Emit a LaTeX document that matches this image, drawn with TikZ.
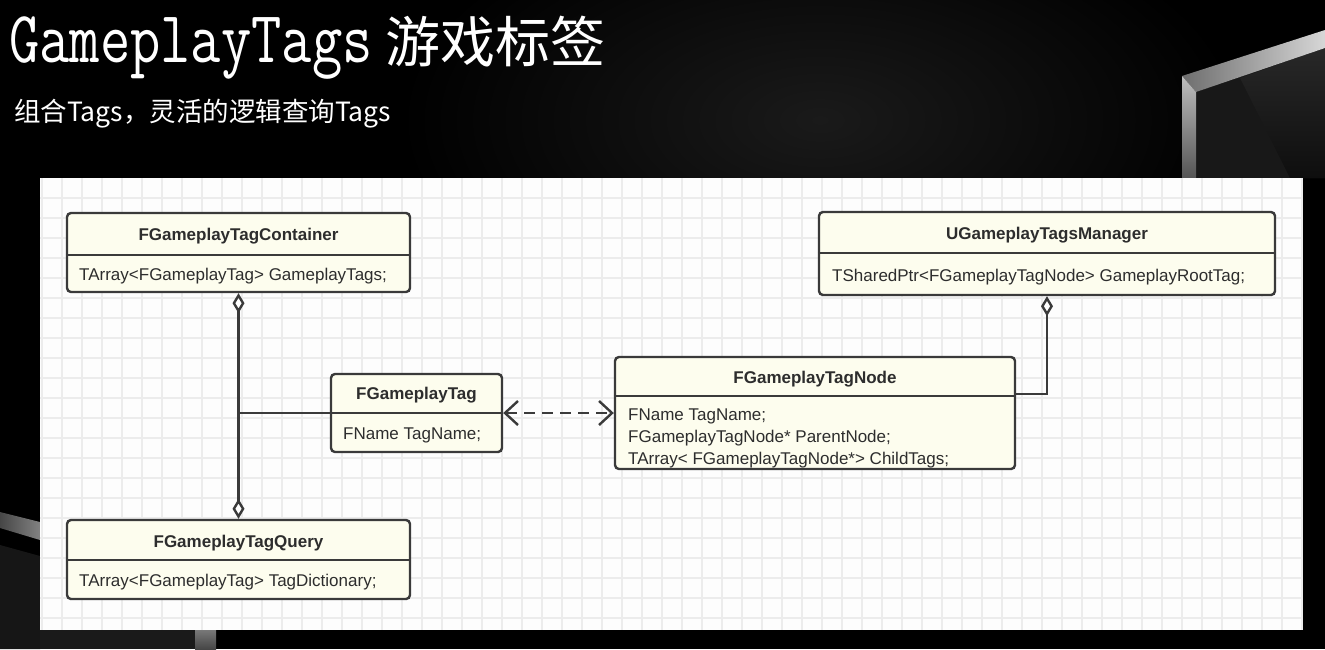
\documentclass[tikz,border=0pt]{standalone}
\usepackage{fontspec}
\setmainfont{Liberation Sans}
\newfontfamily\cjkfont{Noto Sans CJK SC}
\usetikzlibrary{arrows.meta,calc}
\definecolor{boxfill}{RGB}{253,253,238}
\definecolor{boxline}{RGB}{58,58,58}
\definecolor{gridc}{RGB}{236,236,236}
\definecolor{txt}{RGB}{45,45,45}
\definecolor{panelc}{RGB}{253,253,253}
\definecolor{glow}{RGB}{26,26,26}
\definecolor{dk1}{RGB}{24,24,24}
\definecolor{dk2}{RGB}{40,40,40}
\definecolor{dk3}{RGB}{14,14,14}
\definecolor{gr1}{RGB}{110,110,110}
\definecolor{gr2}{RGB}{215,215,215}
\definecolor{gr3}{RGB}{190,190,190}
\definecolor{gr4}{RGB}{85,85,85}
\definecolor{dk4}{RGB}{22,22,22}
\definecolor{gr5}{RGB}{70,70,70}
\definecolor{gr6}{RGB}{130,130,130}
\definecolor{dk5}{RGB}{26,26,26}
\definecolor{gr7}{RGB}{120,120,120}
\tikzset{
  umlbox/.style={draw=boxline, line width=2.4pt, fill=boxfill, rounded corners=4pt, inner sep=0pt},
  divider/.style={draw=boxline, line width=2.4pt},
  clstitle/.style={anchor=base, inner sep=0pt, text=txt, font=\fontsize{17}{20}\selectfont\bfseries},
  clsattr/.style={anchor=base west, inner sep=0pt, text=txt, font=\fontsize{17}{20}\selectfont},
  conn/.style={draw=boxline, line width=2.4pt},
  aggtip/.tip={Diamond[fill=white,length=20pt,width=12pt]},
  opentip/.tip={Straight Barb[length=13pt,width=24pt]},
  gridline/.style={draw=gridc, line width=1.1pt},
  titletext/.style={anchor=base west, inner sep=0pt, text=white},
}
\begin{document}
\begin{tikzpicture}[x=1pt,y=-1pt]
\useasboundingbox (0,0) rectangle (1325,649);
% background
\fill[black] (0,0) rectangle (1325,649);
\shade[inner color=glow, outer color=black] (820,120) ellipse (420pt and 220pt);
% top-right frame decoration
\fill[dk1] (1196,92) -- (1325,48) -- (1325,178) -- (1196,178) -- cycle;
\shade[top color=dk2, bottom color=dk3] (1240,78) -- (1325,48) -- (1325,178) -- (1290,178) -- cycle;
\shade[left color=gr1, right color=gr2] (1182,76) -- (1325,30) -- (1325,48) -- (1196,92) -- cycle;
\shade[top color=gr3, bottom color=gr4] (1182,76) -- (1196,92) -- (1196,178) -- (1182,178) -- cycle;
% bottom-left decoration
\fill[dk4] (0,545) -- (40,556) -- (40,649) -- (0,649) -- cycle;
\shade[left color=gr5, right color=gr6] (0,512) -- (40,522) -- (40,540) -- (0,528) -- cycle;
\fill[dk5] (40,630) rectangle (195,649);
\shade[top color=gr7, bottom color=gr5] (195,630) rectangle (216,649);
% panel with grid
\fill[panelc] (40,178) rectangle (1303,630);
\begin{scope}
  \clip (40,178) rectangle (1303,630);
  \foreach \gx in {42,62,...,1302} \draw[gridline] (\gx,178) -- (\gx,630);
  \foreach \gy in {198,218,...,630} \draw[gridline] (40,\gy) -- (1303,\gy);
\end{scope}
% titles
\node[titletext] (title) at (9,62) {\scalebox{0.80}[1]{\fontsize{73.5}{74}\ttfamily GameplayTags}};
\node[titletext] (titlecn) at (385,62) {\fontsize{55}{60}\cjkfont 游戏标签};
\node[titletext] (subtitle) at (14,121) {\fontsize{26.5}{30}\cjkfont 组合Tags，灵活的逻辑查询Tags};
% class boxes
\node[umlbox, minimum width=343pt, minimum height=79pt] (cont) at (238.5,252.5) {};
\draw[divider] (cont.west |- 0,255) -- (cont.east |- 0,255);
\node[clstitle] (contT) at (238.5,240) {FGameplayTagContainer};
\node[clsattr] (contA) at (79,280) {TArray<FGameplayTag> GameplayTags;};

\node[umlbox, minimum width=343pt, minimum height=79pt] (query) at (238.5,559.5) {};
\draw[divider] (query.west |- 0,560) -- (query.east |- 0,560);
\node[clstitle] (queryT) at (238.5,547) {FGameplayTagQuery};
\node[clsattr] (queryA) at (79,586) {TArray<FGameplayTag> TagDictionary;};

\node[umlbox, minimum width=171pt, minimum height=78pt] (tag) at (416.5,413) {};
\draw[divider] (tag.west) -- (tag.east);
\node[clstitle] (tagT) at (416.5,399) {FGameplayTag};
\node[clsattr] (tagA) at (343,439) {FName TagName;};

\node[umlbox, minimum width=400pt, minimum height=112pt] (tnode) at (815,413) {};
\draw[divider] (tnode.west |- 0,396) -- (tnode.east |- 0,396);
\node[clstitle] (tnodeT) at (815,383) {FGameplayTagNode};
\node[clsattr] (tnodeA1) at (628,420) {FName TagName;};
\node[clsattr] (tnodeA2) at (628,442) {FGameplayTagNode* ParentNode;};
\node[clsattr] (tnodeA3) at (628,464) {TArray< FGameplayTagNode*> ChildTags;};

\node[umlbox, minimum width=456pt, minimum height=83pt] (mgr) at (1047,253.5) {};
\draw[divider] (mgr.west |- 0,253) -- (mgr.east |- 0,253);
\node[clstitle] (mgrT) at (1047,239) {UGameplayTagsManager};
\node[clsattr] (mgrA) at (832,281) {TSharedPtr<FGameplayTagNode> GameplayRootTag;};
% connectors
\draw[conn, aggtip-aggtip] (cont.south) -- (query.north);
\draw[conn] (tag.west) -- (tag.west -| cont.south);
\draw[conn, dash pattern=on 11pt off 7pt, opentip-opentip] (tag.east) -- (tnode.west);
\draw[conn, -aggtip] ([yshift=19pt]tnode.east) -| (mgr.south);
\end{tikzpicture}
\end{document}
